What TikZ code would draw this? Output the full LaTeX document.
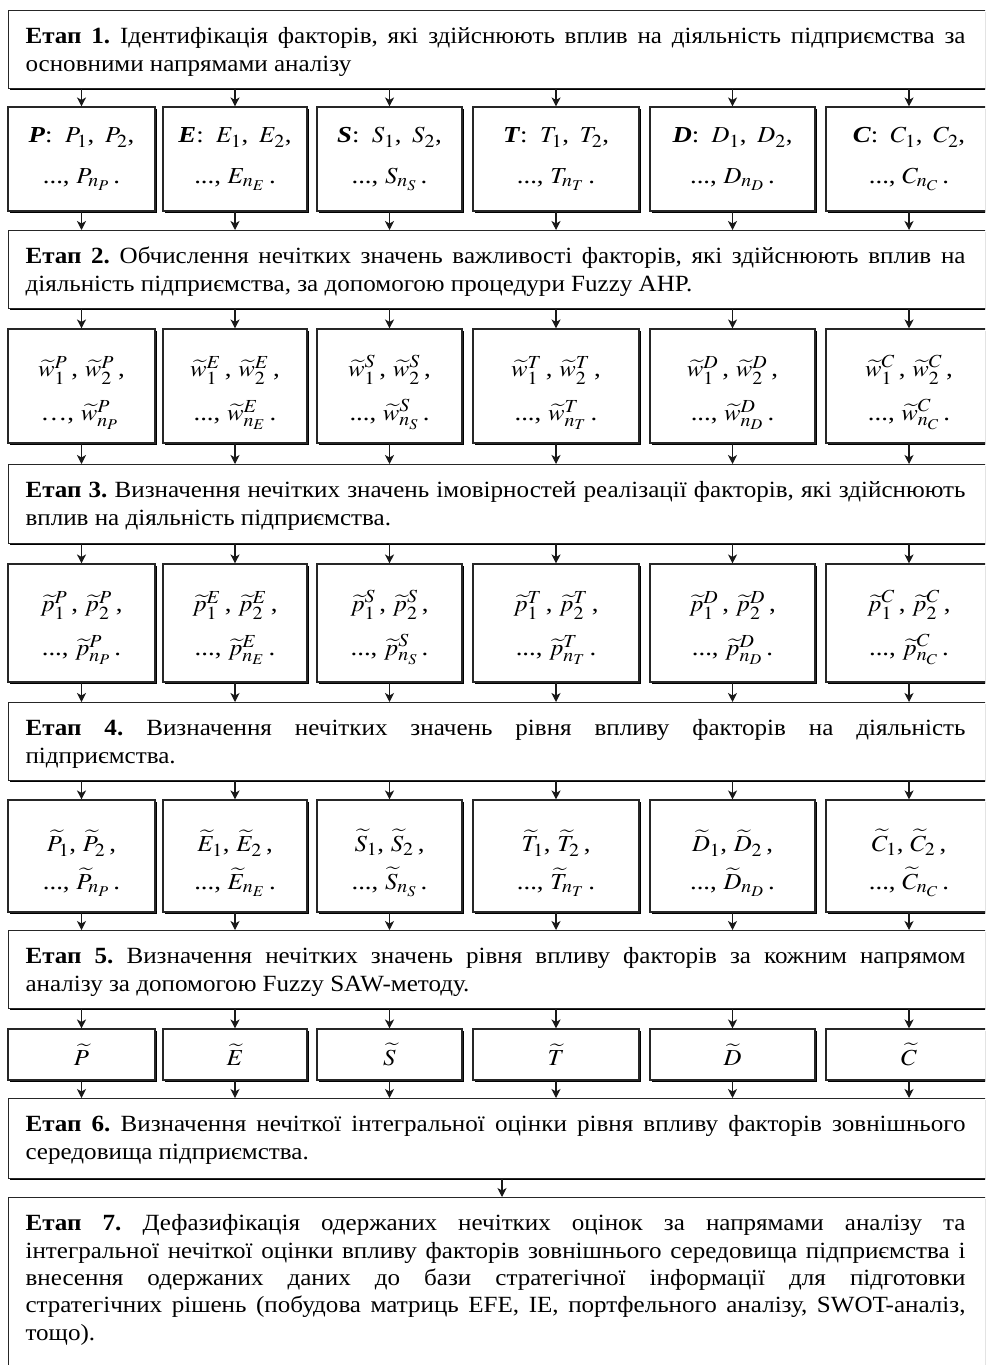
\documentclass[tikz,border=0pt]{standalone}
\usepackage{amsmath}
\usepackage{graphicx}
\usepackage{mathptmx}
\usepackage{fontspec}
\setmainfont{Liberation Serif}[FakeStretch=1.08]
\DeclareMathSizes{23}{23}{18.5}{15}
\usetikzlibrary{arrows.meta,shadows}
\frenchspacing
\newcommand\jlin[1]{\hbox to 940bp{\strut#1}}
\newcommand\llin[1]{\hbox{\strut#1}}
\newcommand\stagetext[2]{\parbox[c][#1][t]{940bp}{\vspace*{14bp}#2}\hspace*{27bp}}
\newcommand\sx[1]{\scalebox{1.08}[1]{#1}}
\newcommand\tdots{...}
\newcommand\tperiod{.}
\tikzset{
  x=1bp, y=-1bp,
  bx/.style={draw=black!85, line width=1.1bp, fill=white,
    drop shadow={shadow xshift=1.8bp, shadow yshift=-1.8bp, fill=black, opacity=1},
    inner sep=0pt, align=center, font=\fontsize{23}{44}\selectfont},
  stagebox/.style={bx, anchor=north west, inner xsep=17bp, inner ysep=0pt, align=left,
    font=\fontsize{23.3}{27.5}\selectfont},
  arr/.style={-{Stealth[length=9bp,width=9bp,inset=2.5bp]}, line width=1.1bp, draw=black!90},
}
\begin{document}
\begin{tikzpicture}
\useasboundingbox (0,0) rectangle (985,1365);
\fill[white] (0,0) rectangle (985,1365);
\clip (0,0) rectangle (985,1365);

% stages
\node[stagebox] (s1) at (8,10)
  {\stagetext{78bp}{\jlin{\textbf{Етап 1.} Ідентифікація факторів, які здійснюють вплив на діяльність підприємства за}\llin{основними напрямами аналізу}}};
\node[stagebox] (s2) at (8,230)
  {\stagetext{78bp}{\jlin{\textbf{Етап 2.} Обчислення нечітких значень важливості факторів, які здійснюють вплив на}\llin{діяльність підприємства, за допомогою процедури Fuzzy AHP.}}};
\node[stagebox] (s3) at (8,464)
  {\stagetext{79bp}{\jlin{\textbf{Етап 3.} Визначення нечітких значень імовірностей реалізації факторів, які здійснюють}\llin{вплив на діяльність підприємства.}}};
\node[stagebox] (s4) at (8,702)
  {\stagetext{78bp}{\jlin{\textbf{Етап 4.} Визначення нечітких значень рівня впливу факторів на діяльність}\llin{підприємства.}}};
\node[stagebox] (s5) at (8,930)
  {\stagetext{78bp}{\jlin{\textbf{Етап 5.} Визначення нечітких значень рівня впливу факторів за кожним напрямом}\llin{аналізу за допомогою Fuzzy SAW-методу.}}};
\node[stagebox] (s6) at (8,1098)
  {\stagetext{80bp}{\jlin{\textbf{Етап 6.} Визначення нечіткої інтегральної оцінки рівня впливу факторів зовнішнього}\llin{середовища підприємства.}}};
\node[stagebox] (s7) at (8,1197)
  {\stagetext{200bp}{\jlin{\textbf{Етап 7.} Дефазифікація одержаних нечітких оцінок за напрямами аналізу та}\jlin{інтегральної нечіткої оцінки впливу факторів зовнішнього середовища підприємства і}\jlin{внесення одержаних даних до бази стратегічної інформації для підготовки}\jlin{стратегічних рішень (побудова матриць EFE, IE, портфельного аналізу, SWOT-аналіз,}\llin{тощо).}}};

% rows of factor boxes
\foreach \i/\x/\w/\L/\dt/\en in {1/81.5/147/P/\ldots/{}, 2/235/144/E/\tdots/\tperiod, 3/389.5/145/S/\tdots/\tperiod, 4/556/166/T/\tdots/\tperiod, 5/732.5/165/D/\tdots/\tperiod, 6/909/166/C/\tdots/\tperiod}{
  \node[bx, minimum width=\w bp, minimum height=104bp] (r1c\i) at (\x,159)
    {\sx{\textbf{\textit{\L}}:\enspace$\L_1$,\, $\L_2$,}\\[-3bp] \sx{\tdots, $\L_{n_{\L}}$\,.}};
  \node[bx, minimum width=\w bp, minimum height=114bp] (r2c\i) at (\x,386)
    {\sx{\rule{0pt}{34bp}$\widetilde{w}_1^{\L}$\,, $\widetilde{w}_2^{\L}$\,,}\\ \sx{\dt, $\widetilde{w}_{n_{\L}}^{\L}$\,\en}};
  \node[bx, minimum width=\w bp, minimum height=118bp] (r3c\i) at (\x,623)
    {\sx{\rule{0pt}{30bp}$\widetilde{p}_1^{\L}$\,, $\widetilde{p}_2^{\L}$\,,}\\ \sx{\tdots, $\widetilde{p}_{n_{\L}}^{\L}$\,.}};
  \node[bx, minimum width=\w bp, minimum height=112bp] (r4c\i) at (\x,856)
    {\sx{\rule{0pt}{36bp}$\widetilde{\L}_1$, $\widetilde{\L}_2$\,,}\\[-6bp] \sx{\tdots, $\widetilde{\L}_{n_{\L}}$\,.}};
  \node[bx, minimum width=\w bp, minimum height=51bp] (r5c\i) at (\x,1054.5)
    {\sx{$\widetilde{\L}$}};
  \draw[arr] (r1c\i |- s1.south) -- (r1c\i.north);
  \draw[arr] (r1c\i.south) -- (r1c\i |- s2.north);
  \draw[arr] (r2c\i |- s2.south) -- (r2c\i.north);
  \draw[arr] (r2c\i.south) -- (r2c\i |- s3.north);
  \draw[arr] (r3c\i |- s3.south) -- (r3c\i.north);
  \draw[arr] (r3c\i.south) -- (r3c\i |- s4.north);
  \draw[arr] (r4c\i |- s4.south) -- (r4c\i.north);
  \draw[arr] (r4c\i.south) -- (r4c\i |- s5.north);
  \draw[arr] (r5c\i |- s5.south) -- (r5c\i.north);
  \draw[arr] (r5c\i.south) -- (r5c\i |- s6.north);
}
\coordinate (m) at (502,1180);
\draw[arr] (s6.south -| m) -- (s7.north -| m);
\end{tikzpicture}
\end{document}
